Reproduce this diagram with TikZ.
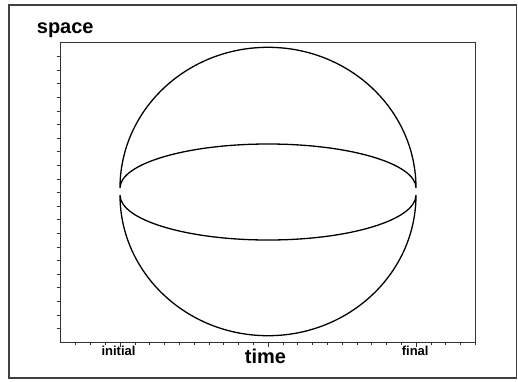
\documentclass[tikz,border=0pt]{standalone}
\usepackage{fontspec}
\setmainfont{Liberation Sans}
\usetikzlibrary{positioning}
\tikzset{
  outerframe/.style = {line width=1.3pt, draw=black!75},
  plotbox/.style    = {line width=0.9pt, draw=black!80},
  tickmark/.style   = {line width=0.6pt, draw=black!80},
  orbit/.style      = {line width=1.3pt, draw=black},
  axtitle/.style    = {font=\fontsize{20}{24}\selectfont\bfseries, inner sep=0pt},
  endlabel/.style   = {font=\fontsize{13}{15}\selectfont\bfseries, inner sep=0pt, anchor=base},
}

\begin{document}
\begin{tikzpicture}[x=1pt, y=-1pt]

  \useasboundingbox (0,0) rectangle (518,381);

  %─── Frame and plot box ────────────────────────────────────────────────────
  \draw[outerframe] (9,5) rectangle (516.5,378);
  \coordinate (origin) at (60,342);
  \coordinate (corner) at (475,42.5);
  \draw[plotbox] (origin) rectangle (corner);

  %─── Ticks ─────────────────────────────────────────────────────────────────
  % vertical axis, 22 steps
  \foreach \k in {1,...,21}
    \draw[tickmark] ({56.5},{342-\k*13.59}) -- ({60},{342-\k*13.59});
  % horizontal axis, longer marks at 0, 10, 20
  \foreach \k in {-3,...,24} {
    \pgfmathsetmacro{\ticklen}{(\k==0 || \k==10 || \k==20) ? 5 : 3}
    \draw[tickmark] ({120+\k*14.8},{342}) -- ({120+\k*14.8},{342+\ticklen});
  }

  %─── Labels ────────────────────────────────────────────────────────────────
  \node[axtitle, anchor=base west] (space) at (36.7,33.5) {space};
  \node[axtitle, anchor=base]      (time)  at (265.4,363.3) {time};
  \node[endlabel] (initial) at (118.5,355.5) {initial};
  \node[endlabel] (final)   at (415.2,355.5) {final};

  %─── Orbits ────────────────────────────────────────────────────────────────
  % upper lobe: big arc over the top, flat arc back
  \draw[orbit] (120,188)
        arc[start angle=180, end angle=360, x radius=148, y radius=140.7]
        arc[start angle=0, end angle=-180, x radius=148, y radius=44];
  % lower lobe: flat arc under, big arc back
  \draw[orbit] (120,195)
        arc[start angle=180, end angle=0, x radius=148, y radius=45]
        arc[start angle=0, end angle=180, x radius=148, y radius=140.7];

\end{tikzpicture}
\end{document}
